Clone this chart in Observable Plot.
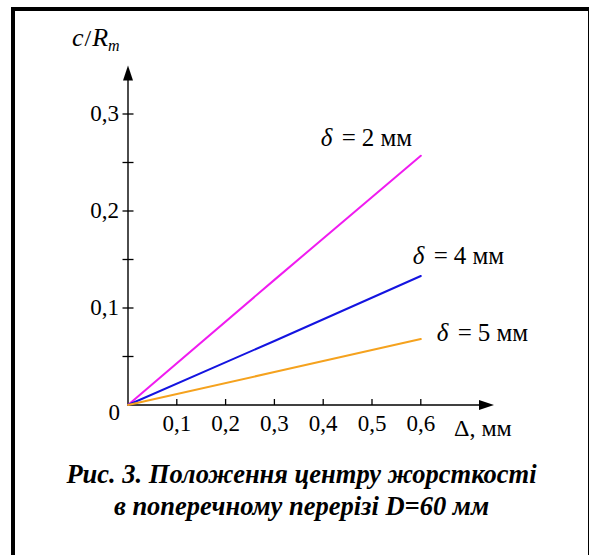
<!DOCTYPE html>
<html>
<head>
<meta charset="utf-8">
<script src="https://cdn.jsdelivr.net/npm/d3@7"></script>
<script src="https://cdn.jsdelivr.net/npm/@observablehq/plot@0.6"></script>
<style>
  html, body { margin: 0; padding: 0; background: #fff; }
  #wrap { position: relative; width: 590px; height: 555px; overflow: hidden; font-family: "Liberation Serif", "Times New Roman", Tinos, "DejaVu Serif", serif; }
  #chart { position: absolute; left: 0; top: 0; }
  #frame { position: absolute; left: 11px; top: 7px; width: 573px; height: 600px;
           border-left: 4px solid #000; border-top: 4px solid #000; border-right: 1.5px solid #000; pointer-events: none; }
  #ylab { position: absolute; left: 72px; top: 25px; font-size: 26px; line-height: 26px; color: #000; white-space: nowrap; }
  #ylab .sl { font-size: 24px; margin: 0 1px; }
  #ylab sub { font-size: 16px; vertical-align: -5px; }
  #caption { position: absolute; left: 15px; top: 458px; width: 573px; text-align: center;
             font-size: 26.5px; line-height: 32px; font-weight: bold; font-style: italic; color: #000; }
</style>
</head>
<body>
<div id="wrap">
  <div id="chart"></div>
  <div id="ylab"><i>c</i><span class="sl">/</span><i>R</i><sub><i>m</i></sub></div>
  <div id="caption">Рис. 3. Положення центру жорсткості<br>в поперечному перерізі D=60 мм</div>
  <div id="frame"></div>
</div>
<script>
// ---- data ----
const deltaX = [0, 0.3, 0.6];            // Δ, мм
const seriesNames = ["δ = 2 мм", "δ = 4 мм", "δ = 5 мм"];
const seriesValueText = ["2 мм", "4 мм", "5 мм"];
const seriesColors = ["#f01cf0", "#1414e0", "#f5a21e"];
const valuesD2 = [0, 0.129, 0.257];
const valuesD4 = [0, 0.066, 0.133];
const valuesD5 = [0, 0.034, 0.068];
const xTicks = [0.1, 0.2, 0.3, 0.4, 0.5, 0.6];
const xTickLabels = ["0,1", "0,2", "0,3", "0,4", "0,5", "0,6"];
const yTicks = [0.05, 0.1, 0.15, 0.2, 0.25, 0.3];
const yLabelTicks = [0.1, 0.2, 0.3];
const yTickLabels = ["0,1", "0,2", "0,3"];
const xTitle = "Δ, мм";

// ---- build table ----
const seriesValues = [valuesD2, valuesD4, valuesD5];
const rows = [];
seriesNames.forEach((name, i) => {
  deltaX.forEach((x, j) => rows.push({series: name, x, y: seriesValues[i][j]}));
});
const ends = seriesNames.map((name, i) => ({series: name, val: seriesValueText[i],
  x: deltaX[deltaX.length - 1], y: seriesValues[i][seriesValues[i].length - 1]}));
// label offsets (px) relative to line end
const labelOffsets = [{dx: -100, dy: -18}, {dx: -8, dy: -20}, {dx: 16, dy: -6}];

// custom symbols
const arrowHead = {draw(ctx) { ctx.moveTo(0, 0); ctx.lineTo(5, 15); ctx.lineTo(-5, 15); ctx.closePath(); }};
const hTick = {draw(ctx) { ctx.moveTo(-5.5, 0); ctx.lineTo(5.5, 0); }};
const vTick = {draw(ctx) { ctx.moveTo(0, 0); ctx.lineTo(0, -6); }};

const font = "'Liberation Serif', 'Times New Roman', Tinos, 'DejaVu Serif', serif";
const labelMarks = ends.flatMap((e, i) => [
  Plot.text([e], {x: "x", y: "y", text: () => "δ", textAnchor: "start", fontStyle: "italic", fontSize: 25, fill: "#000",
    dx: labelOffsets[i].dx, dy: labelOffsets[i].dy}),
  Plot.text([e], {x: "x", y: "y", text: () => "=", textAnchor: "start", fontSize: 25, fill: "#000",
    dx: labelOffsets[i].dx + 21, dy: labelOffsets[i].dy}),
  Plot.text([e], {x: "x", y: "y", text: "val", textAnchor: "start", fontSize: 25, fill: "#000",
    dx: labelOffsets[i].dx + 41, dy: labelOffsets[i].dy})
]);

const chart = Plot.plot({
  width: 590,
  height: 440,
  marginLeft: 127.5,
  marginRight: 96.5,
  marginTop: 65,
  marginBottom: 35.5,
  x: {domain: [0, 0.75], axis: null},
  y: {domain: [0, 0.35], axis: null},
  color: {domain: seriesNames, range: seriesColors},
  style: {fontFamily: font, background: "transparent", overflow: "visible", color: "#000"},
  marks: [
    // axes
    Plot.ruleY([0], {x1: 0, x2: 0.73, stroke: "#000", strokeWidth: 1.4}),
    Plot.ruleX([0], {y1: 0, y2: 0.335, stroke: "#000", strokeWidth: 1.4}),
    Plot.dot([{x: 0, y: 0.35}], {x: "x", y: "y", symbol: arrowHead, fill: "#000", stroke: null}),
    Plot.dot([{x: 0.75, y: 0}], {x: "x", y: "y", symbol: arrowHead, fill: "#000", stroke: null, rotate: 90}),
    Plot.dot(yTicks, {x: 0, y: d => d, symbol: hTick, stroke: "#000", fill: "none", strokeWidth: 1.3}),
    Plot.dot(xTicks, {x: d => d, y: 0, symbol: vTick, stroke: "#000", fill: "none", strokeWidth: 1.3}),
    // tick labels
    Plot.text(yLabelTicks, {x: 0, y: d => d, text: (d, i) => yTickLabels[i], textAnchor: "end", dx: -9, fontSize: 23, fill: "#000"}),
    Plot.text(["0"], {x: 0, y: 0, text: d => d, textAnchor: "end", dx: -8, dy: 8, fontSize: 23, fill: "#000"}),
    Plot.text(xTicks, {x: d => d, y: 0, text: (d, i) => xTickLabels[i], dy: 19, fontSize: 23, fill: "#000"}),
    Plot.text([xTitle], {x: 0.75, y: 0, text: d => d, textAnchor: "start", dx: -40, dy: 23, fontSize: 24, fill: "#000"}),
    // data
    Plot.line(rows, {x: "x", y: "y", z: "series", stroke: "series", strokeWidth: 2}),
    ...labelMarks
  ]
});
document.getElementById("chart").appendChild(chart);
</script>
</body>
</html>
